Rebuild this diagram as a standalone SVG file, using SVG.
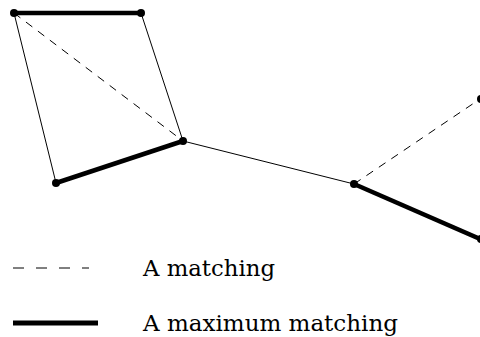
<svg xmlns="http://www.w3.org/2000/svg" width="480" height="337" viewBox="0 0 480 337">
<style>
.thin{stroke:#000;stroke-width:1;fill:none}
.dash{stroke:#000;stroke-width:1;fill:none;stroke-dasharray:8 7}
.thick{stroke:#000;stroke-width:4.5;fill:none}
.node{fill:#000}
.lbl{font-family:'DejaVu Serif','Liberation Serif',serif;font-size:23px;fill:#000}
</style>
<rect width="480" height="337" fill="#fff"/>
<g id="connectors">
<line class="thin" x1="14" y1="13" x2="56" y2="183"/>
<line class="thin" x1="141" y1="13" x2="183" y2="141"/>
<line class="dash" x1="14" y1="13" x2="183" y2="141"/>
<line class="thin" x1="183" y1="141" x2="354" y2="184"/>
<line class="dash" x1="354" y1="184" x2="480" y2="99"/>
<line class="thick" x1="14" y1="13" x2="141" y2="13"/>
<line class="thick" x1="56" y1="183" x2="183" y2="141"/>
<line class="thick" x1="354" y1="184" x2="480" y2="239"/>
</g>
<g id="n1"><circle class="node" cx="14" cy="13" r="4"/></g>
<g id="n2"><circle class="node" cx="141" cy="13" r="4"/></g>
<g id="n3"><circle class="node" cx="183" cy="141" r="4"/></g>
<g id="n4"><circle class="node" cx="56" cy="183" r="4"/></g>
<g id="n5"><circle class="node" cx="354" cy="184" r="4"/></g>
<g id="n6"><circle class="node" cx="481" cy="99" r="4"/></g>
<g id="n7"><circle class="node" cx="481" cy="239" r="4"/></g>
<g id="legend">
<line x1="13" y1="268" x2="89" y2="268" stroke="#000" stroke-width="1" stroke-dasharray="11 12"/>
<text class="lbl" x="143" y="276" textLength="132" lengthAdjust="spacingAndGlyphs">A matching</text>
<line x1="13" y1="323" x2="98" y2="323" stroke="#000" stroke-width="5"/>
<text class="lbl" x="143" y="331" textLength="255" lengthAdjust="spacingAndGlyphs">A maximum matching</text>
</g>
</svg>
